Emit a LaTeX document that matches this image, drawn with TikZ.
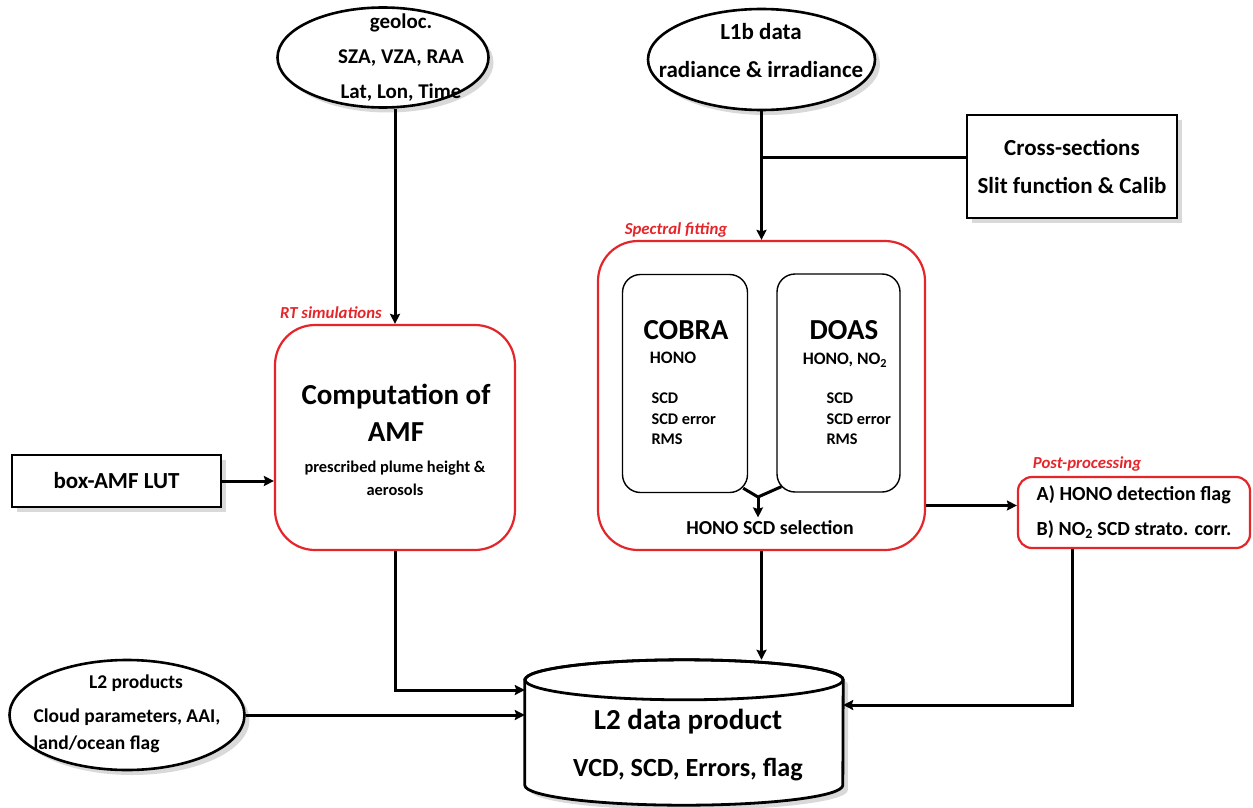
\documentclass[tikz,border=0pt]{standalone}
\usepackage{fontspec}
\setmainfont{Carlito}
\usetikzlibrary{shapes.geometric,shadows,arrows.meta}

\newcommand\fbig{\bfseries\fontsize{29}{37}\selectfont}
\newcommand\fmed{\bfseries\fontsize{23}{38}\selectfont}
\newcommand\fsub{\bfseries\fontsize{17.5}{23}\selectfont}
\newcommand\flist{\bfseries\fontsize{16.3}{20.5}\selectfont}
\newcommand\ftag{\bfseries\itshape\fontsize{16.8}{19}\selectfont}

\definecolor{boxred}{RGB}{228,38,42}

\tikzset{
  line/.style={line width=3pt},
  arr/.style={line,-{Stealth[length=10pt,width=10pt,inset=1.5pt]}},
  shade/.style={drop shadow={shadow xshift=5pt,shadow yshift=-5pt,opacity=.3}},
  bubble/.style={ellipse,draw,line width=2.6pt,fill=white,shade},
  plainbox/.style={rectangle,draw,line width=2.8pt,fill=white,shade,align=center,font=\fmed},
  redbox/.style={rectangle,rounded corners=40pt,draw=boxred,line width=2.2pt,fill=white},
  algbox/.style={rectangle,rounded corners=18pt,draw,line width=1.4pt},
  redtag/.style={text=boxred,font=\ftag},
}

\begin{document}
\begin{tikzpicture}[x=1pt,y=-1pt]
\useasboundingbox (0,0) rectangle (1253,808);

% inputs
\node[bubble,minimum width=211pt,minimum height=100pt] (geo) at (383,57.5) {};
\node[align=center,font=\bfseries\fontsize{21}{35}\selectfont] (geoT) at (401,58) {geoloc.\\SZA, VZA, RAA\\Lat, Lon, Time};
\node[bubble,minimum width=227pt,minimum height=101pt] (l1b) at (761.5,59.5) {};
\node[align=center,font=\fmed] (l1bT) at (761,51) {L1b data\\radiance \& irradiance};
\node[plainbox,minimum width=210pt,minimum height=103pt] (xsec) at (1072,166.5) {Cross-sections\\Slit function \& Calib};
\node[plainbox,minimum width=209pt,minimum height=52pt] (lut) at (116.5,481) {box-AMF LUT};

% AMF
\node[redbox,minimum width=240pt,minimum height=225pt] (amf) at (395,437.5) {};
\node[redtag] (rtlab) at (331,313) {RT simulations};
\node[align=center,font=\fbig] (amfT) at (396,413) {Computation of\\AMF};
\node[align=center,font=\bfseries\fontsize{16.4}{23}\selectfont] (amfS) at (395,478) {prescribed plume height \&\\aerosols};

% spectral fitting
\node[redbox,minimum width=327pt,minimum height=309pt] (spec) at (761.5,395.5) {};
\node[redtag] (speclab) at (676,230) {Spectral fitting};
\node[algbox,minimum width=125pt,minimum height=218pt] (cobra) at (685,383.5) {};
\node[algbox,minimum width=123pt,minimum height=218pt] (doas) at (838.5,383) {};
\node[font=\fbig] (cobraT) at (686,330) {COBRA};
\node[font=\fsub] (cobraM) at (673,358) {HONO};
\node[align=left,anchor=west,font=\flist] (cobraL) at (648,419) {SCD\\SCD error\\RMS};
\node[font=\fbig] (doasT) at (844,330) {DOAS};
\node[font=\fsub] (doasM) at (845,360) {HONO, NO\textsubscript{2}};
\node[align=left,anchor=west,font=\flist] (doasL) at (823,419) {SCD\\SCD error\\RMS};
\node[font=\bfseries\fontsize{19.8}{23}\selectfont] (sel) at (770,528) {HONO SCD selection};
\coordinate (ymerge) at (758,497);

% post-processing
\node[redbox,rounded corners=14pt,minimum width=232pt,minimum height=71pt,align=left,
  font=\bfseries\fontsize{20}{35}\selectfont] (post) at (1134,512.5)
  {A) HONO detection flag\\B) NO\textsubscript{2} SCD strato. corr.};
\node[redtag] (postlab) at (1087,464) {Post-processing};

% outputs
\node[bubble,minimum width=235pt,minimum height=110pt] (l2p) at (127,715) {};
\node[font=\bfseries\fontsize{19.5}{27}\selectfont] (l2pT) at (136,683) {L2 products};
\node[align=left,anchor=west,font=\bfseries\fontsize{19.5}{27}\selectfont] (l2pL) at (30,731) {Cloud parameters, AAI,\\land/ocean flag};
\node[minimum width=318pt,minimum height=145pt,inner sep=0pt] (l2) at (684,732.5) {};
\draw[line,line width=2.8pt,fill=white,shade] ([yshift=-20pt]l2.north west) -- ([yshift=20pt]l2.south west)
  arc[start angle=180,end angle=360,x radius=159pt,y radius=20pt]
  -- ([yshift=-20pt]l2.north east)
  arc[start angle=0,end angle=180,x radius=159pt,y radius=20pt] -- cycle;
\draw[line width=2.8pt] ([yshift=-20pt]l2.north) ellipse[x radius=159pt,y radius=20pt];
\node[font=\fbig] (l2T) at (688,722) {L2 data product};
\node[font=\bfseries\fontsize{26.2}{30}\selectfont] (l2S) at (688,770) {VCD, SCD, Errors, flag};

% connectors
\coordinate (join) at (761,157);
\draw[arr] (amf.north |- geo.south) -- (amf.north);
\draw[arr] (spec.north |- l1b.south) -- (spec.north);
\draw[line] (xsec.west |- join) -- (join);
\draw[arr] (lut.east) -- (lut.east -| amf.west);
\draw[line] ([shift={(-5,-5)}]cobra.south east) -- (ymerge) -- ([shift={(5,-6)}]doas.south west);
\draw[arr] (ymerge) -- (ymerge |- sel.north);
\draw[arr] ([yshift=7pt]post.west -| spec.east) -- ([yshift=7pt]post.west);
\draw[arr] (amf.south) |- ([yshift=42.5pt]l2.west);
\draw[arr] (l2p.east) -- (l2p.east -| l2.west);
\draw[arr] (spec.south) -- (spec.south |- l2.north);
\draw[arr] ([xshift=-62pt]post.south) |- ([yshift=27.5pt]l2.east);
\end{tikzpicture}
\end{document}
